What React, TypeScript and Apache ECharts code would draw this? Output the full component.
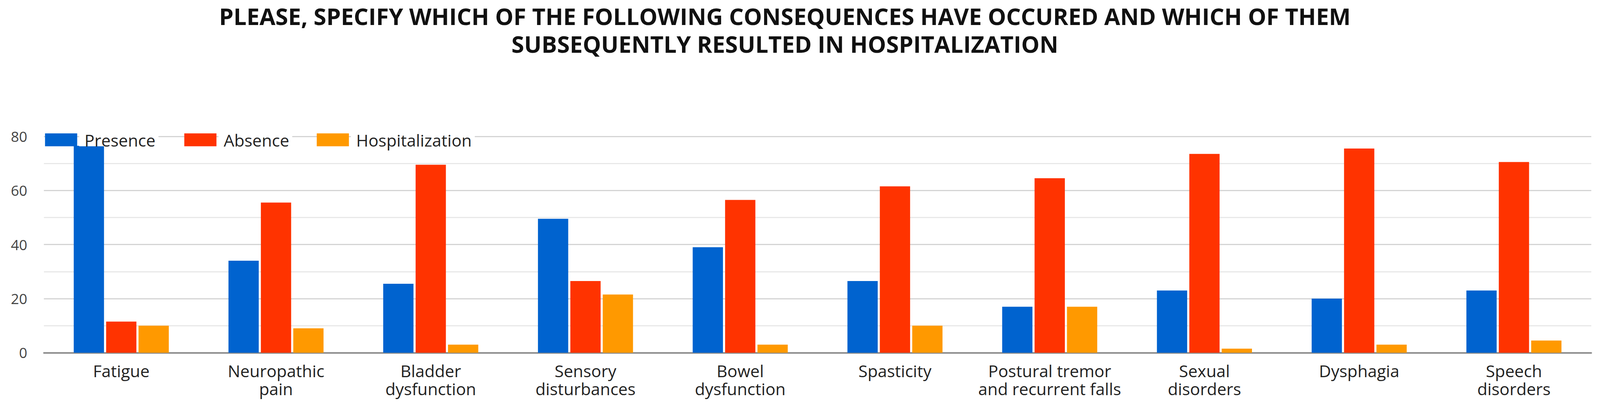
import React, { useEffect, useRef } from "react";
import * as echarts from "echarts";

const titleLines = [
  "PLEASE, SPECIFY WHICH OF THE FOLLOWING CONSEQUENCES HAVE OCCURED AND WHICH OF THEM",
  "SUBSEQUENTLY RESULTED IN HOSPITALIZATION",
];

const categories = [
  "Fatigue",
  "Neuropathic\npain",
  "Bladder\ndysfunction",
  "Sensory\ndisturbances",
  "Bowel\ndysfunction",
  "Spasticity",
  "Postural tremor\nand recurrent falls",
  "Sexual\ndisorders",
  "Dysphagia",
  "Speech\ndisorders",
];

const seriesNames = ["Presence", "Absence", "Hospitalization"];
const presence = [76.5, 34, 25.5, 49.5, 39, 26.5, 17, 23, 20, 23];
const absence = [11.5, 55.5, 69.5, 26.5, 56.5, 61.5, 64.5, 73.5, 75.5, 70.5];
const hospitalization = [10, 9, 3, 21.5, 3, 10, 17, 1.5, 3, 4.5];

const colors = ["#0063CF", "#FF3300", "#FF9900"];
const yMin = 0;
const yMax = 80;
const yStep = 10;
const yLabelStep = 20;

const FONT = "'Open Sans', 'Noto Sans', sans-serif";
const REF_W = 4228;
const REF_H = 1072;

export default function App() {
  const ref = useRef<HTMLDivElement>(null);

  useEffect(() => {
    const el = ref.current;
    if (!el) return;
    const k = (el.clientWidth || REF_W) / REF_W;
    el.style.height = `${REF_H * k}px`;
    const s = (v: number) => v * k;
    const chart = echarts.init(el, undefined, { renderer: "svg" });
    const values = [presence, absence, hospitalization];
    const legendLefts = [119, 487, 837];

    chart.setOption({
      animation: false,
      backgroundColor: "#ffffff",
      color: colors,
      graphic: [
        {
          type: "text",
          x: s(2074),
          y: s(6),
          z: 10,
          style: {
            text: titleLines.join("\n"),
            align: "center",
            verticalAlign: "top",
            fontFamily: FONT,
            fontWeight: "bold",
            fontSize: s(61),
            lineHeight: s(73),
            fill: "#111111",
          },
        },
      ],
      legend: seriesNames.map((name, i) => ({
        data: [name],
        left: s(legendLefts[i]),
        top: s(347),
        orient: "horizontal",
        itemWidth: s(85),
        itemHeight: s(34),
        itemGap: 0,
        padding: 0,
        icon: "rect",
        selectedMode: false,
        textStyle: {
          fontFamily: FONT,
          fontSize: s(44),
          lineHeight: s(34),
          color: "#222222",
          backgroundColor: "#ffffff",
          padding: [0, s(8), 0, s(14)],
        },
      })),
      grid: {
        left: s(116),
        right: s(23),
        top: s(360),
        bottom: s(141),
        containLabel: false,
      },
      xAxis: {
        type: "category",
        data: categories,
        axisLine: { show: true, lineStyle: { color: "#8c8c8c", width: s(4) } },
        axisTick: { show: false },
        axisLabel: {
          interval: 0,
          margin: s(24),
          fontFamily: FONT,
          fontSize: s(44),
          lineHeight: s(47),
          color: "#222222",
          verticalAlign: "top",
        },
        splitLine: { show: false },
      },
      yAxis: {
        type: "value",
        min: yMin,
        max: yMax,
        interval: yStep,
        axisLine: { show: false },
        axisTick: { show: false },
        axisLabel: {
          margin: s(44),
          fontFamily: FONT,
          fontSize: s(38),
          color: "#444444",
          formatter: (v: number) => (v % yLabelStep === 0 ? String(v) : ""),
        },
        splitLine: {
          show: true,
          lineStyle: { color: ["#d4d4d4", "#e8e8e8"], width: s(3) },
        },
      },
      series: seriesNames.map((name, i) => ({
        name,
        type: "bar",
        data: values[i],
        barWidth: s(80),
        barGap: "7%",
        itemStyle: { color: colors[i] },
      })),
    });

    return () => chart.dispose();
  }, []);

  return (
    <div
      ref={ref}
      style={{ position: "fixed", left: 0, top: 0, width: "100vw", height: REF_H }}
    />
  );
}
